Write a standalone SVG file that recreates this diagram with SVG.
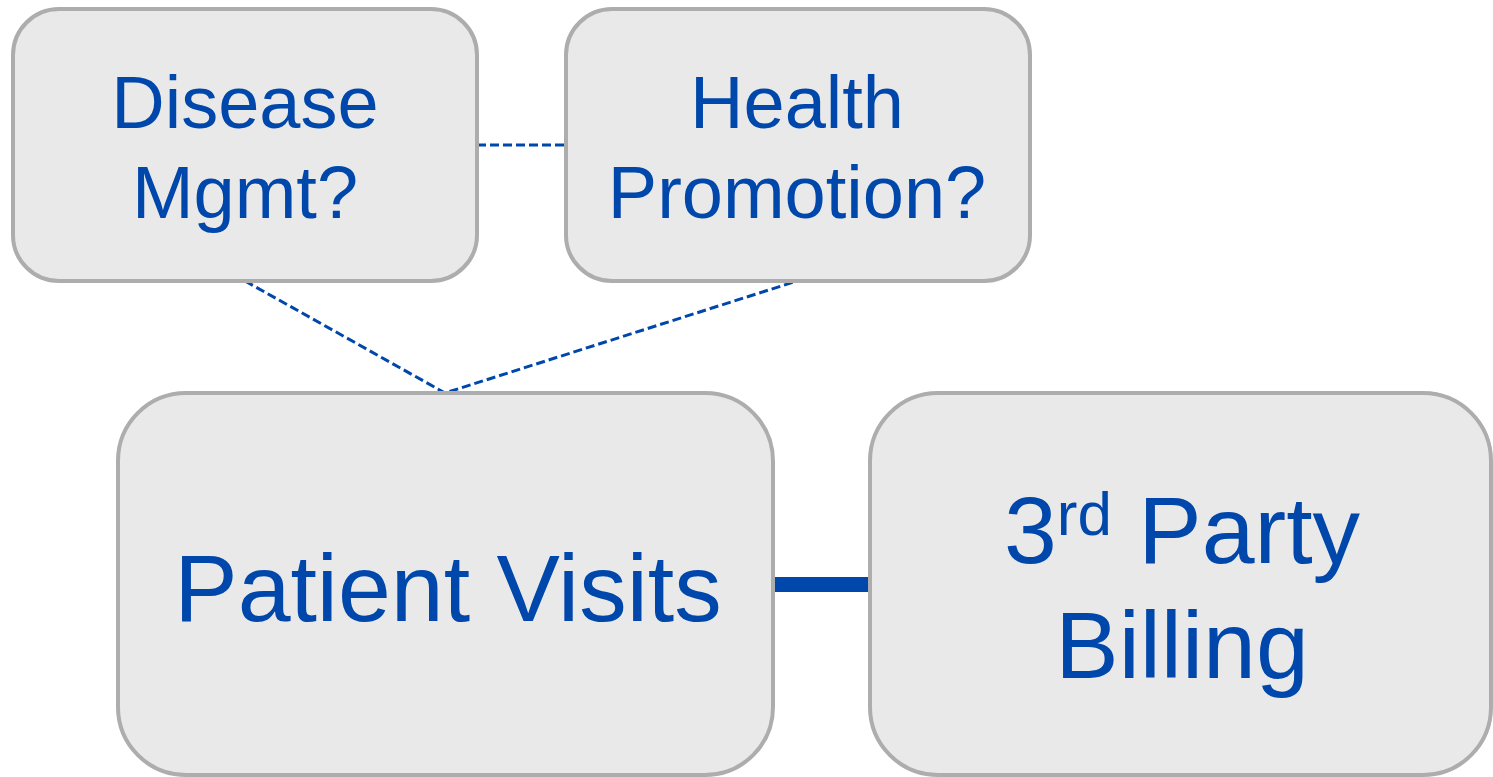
<svg xmlns="http://www.w3.org/2000/svg" width="1493" height="777" viewBox="0 0 1493 777">
<style>
.box{fill:#e9e9e9;stroke:#adadad;stroke-width:4}
.t{font-family:"Liberation Sans",Arial,sans-serif;fill:#0047ab;text-anchor:middle}
.dash{fill:none;stroke:#0047ab;stroke-width:3;stroke-dasharray:9 4}
</style>
<rect width="1493" height="777" fill="#ffffff"/>
<g id="connectors">
<line class="dash" x1="477" y1="145" x2="565" y2="145"/>
<polyline class="dash" points="245,281 445,393 797,281"/>
<line x1="773" y1="584.5" x2="869" y2="584.5" stroke="#0047ab" stroke-width="15"/>
</g>
<g id="disease">
<rect class="box" x="13" y="9" width="464" height="272" rx="46" ry="46"/>
<text class="t" font-size="74" x="245" y="128">Disease</text>
<text class="t" font-size="74" x="245" y="218">Mgmt?</text>
</g>
<g id="health">
<rect class="box" x="566" y="9" width="464" height="272" rx="46" ry="46"/>
<text class="t" font-size="74" x="797" y="128">Health</text>
<text class="t" font-size="74" x="797" y="218">Promotion?</text>
</g>
<g id="patient">
<rect class="box" x="118" y="393" width="655" height="382" rx="68" ry="68"/>
<text class="t" font-size="95" x="448" y="621">Patient Visits</text>
</g>
<g id="billing">
<rect class="box" x="870" y="393" width="621" height="382" rx="68" ry="68"/>
<text class="t" font-size="95" x="1182" y="563">3<tspan font-size="62" dy="-28">rd</tspan><tspan dy="28"> Party</tspan></text>
<text class="t" font-size="95" x="1182" y="678">Billing</text>
</g>
</svg>
